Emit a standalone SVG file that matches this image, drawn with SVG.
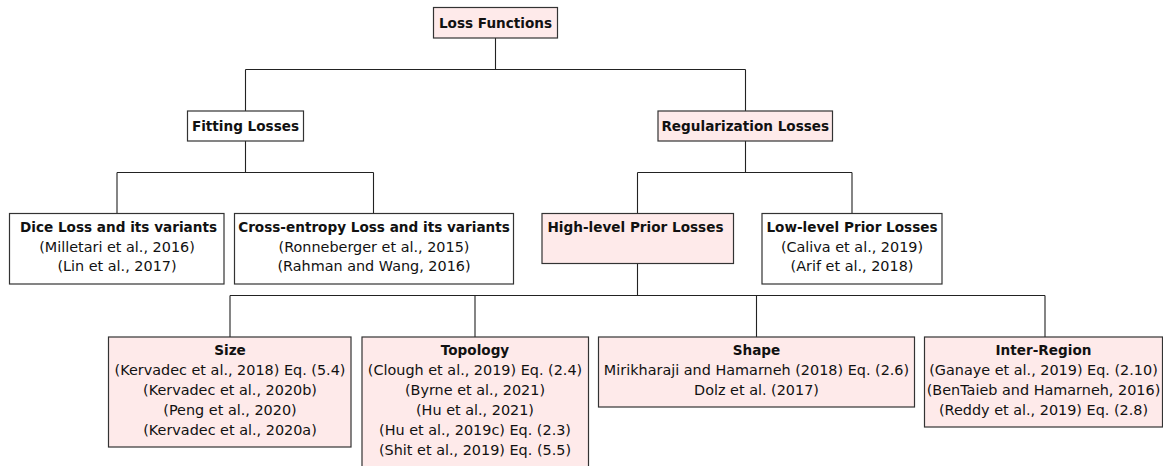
<svg xmlns="http://www.w3.org/2000/svg" width="1163" height="466" viewBox="0 0 1163 466">
<style>
.box{stroke:#333;stroke-width:1.2;fill:#fff}
.pink{fill:#feeaea}
.t{font-family:"DejaVu Sans",sans-serif;font-size:14.4px;fill:#111;text-anchor:middle}
.b{font-family:"DejaVu Sans",sans-serif;font-size:13.6px;font-weight:bold;fill:#111;text-anchor:middle}
.conn{stroke:#222;stroke-width:1.1;fill:none}
</style>
<rect width="1163" height="466" fill="#fff"/>
<g id="connectors" class="conn">
<path d="M495.5,38 V69.5 M245.5,69.5 H745.5 M245.5,69.5 V111 M745.5,69.5 V111"/>
<path d="M245.5,141 V172.5 M117,172.5 H373.5 M117,172.5 V213 M373.5,172.5 V213"/>
<path d="M745.5,141 V172.5 M637.5,172.5 H852 M637.5,172.5 V213 M852,172.5 V213"/>
<path d="M637.5,263.5 V295.5 M230,295.5 H1045 M230,295.5 V337 M475,295.5 V337 M756.5,295.5 V337 M1045,295.5 V337"/>
</g>
<g id="loss-functions">
<rect class="box pink" x="433.5" y="7.5" width="124" height="30.5"/>
<text class="b" x="495.5" y="27.5">Loss Functions</text>
</g>
<g id="fitting-losses">
<rect class="box" x="187.5" y="111" width="116" height="30"/>
<text class="b" x="245.5" y="130.7">Fitting Losses</text>
</g>
<g id="regularization-losses">
<rect class="box pink" x="658" y="111" width="174.5" height="30"/>
<text class="b" x="745.3" y="130.7">Regularization Losses</text>
</g>
<g id="dice">
<rect class="box" x="9.5" y="213.5" width="214.5" height="70.5"/>
<text class="b" x="118.5" y="232">Dice Loss and its variants</text>
<text class="t" x="117" y="251.5">(Milletari et al., 2016)</text>
<text class="t" x="117" y="271">(Lin et al., 2017)</text>
</g>
<g id="cross-entropy">
<rect class="box" x="234.5" y="213.5" width="279" height="70.5"/>
<text class="b" x="374" y="232">Cross-entropy Loss and its variants</text>
<text class="t" x="374" y="251.5">(Ronneberger et al., 2015)</text>
<text class="t" x="374" y="271">(Rahman and Wang, 2016)</text>
</g>
<g id="high-level">
<rect class="box pink" x="542" y="213.5" width="191.5" height="50"/>
<text class="b" x="635.5" y="232">High-level Prior Losses</text>
</g>
<g id="low-level">
<rect class="box" x="762" y="213.5" width="180" height="70.5"/>
<text class="b" x="852" y="232">Low-level Prior Losses</text>
<text class="t" x="852" y="251.5">(Caliva et al., 2019)</text>
<text class="t" x="852" y="271">(Arif et al., 2018)</text>
</g>
<g id="size">
<rect class="box pink" x="108.5" y="337" width="242.5" height="110"/>
<text class="b" x="230" y="355">Size</text>
<text class="t" x="230" y="375">(Kervadec et al., 2018) Eq. (5.4)</text>
<text class="t" x="230" y="395">(Kervadec et al., 2020b)</text>
<text class="t" x="230" y="415">(Peng et al., 2020)</text>
<text class="t" x="230" y="435">(Kervadec et al., 2020a)</text>
</g>
<g id="topology">
<rect class="box pink" x="362" y="337" width="226.5" height="130"/>
<text class="b" x="475" y="355">Topology</text>
<text class="t" x="475" y="375">(Clough et al., 2019) Eq. (2.4)</text>
<text class="t" x="475" y="395">(Byrne et al., 2021)</text>
<text class="t" x="475" y="415">(Hu et al., 2021)</text>
<text class="t" x="475" y="435">(Hu et al., 2019c) Eq. (2.3)</text>
<text class="t" x="475" y="455">(Shit et al., 2019) Eq. (5.5)</text>
</g>
<g id="shape">
<rect class="box pink" x="598.5" y="337" width="316" height="70"/>
<text class="b" x="756.5" y="355">Shape</text>
<text class="t" x="756.5" y="375">Mirikharaji and Hamarneh (2018) Eq. (2.6)</text>
<text class="t" x="756.5" y="395">Dolz et al. (2017)</text>
</g>
<g id="inter-region">
<rect class="box pink" x="924.5" y="337" width="238" height="90"/>
<text class="b" x="1043.5" y="355">Inter-Region</text>
<text class="t" x="1043.5" y="375">(Ganaye et al., 2019) Eq. (2.10)</text>
<text class="t" x="1043.5" y="395">(BenTaieb and Hamarneh, 2016)</text>
<text class="t" x="1043.5" y="415">(Reddy et al., 2019) Eq. (2.8)</text>
</g>
</svg>
